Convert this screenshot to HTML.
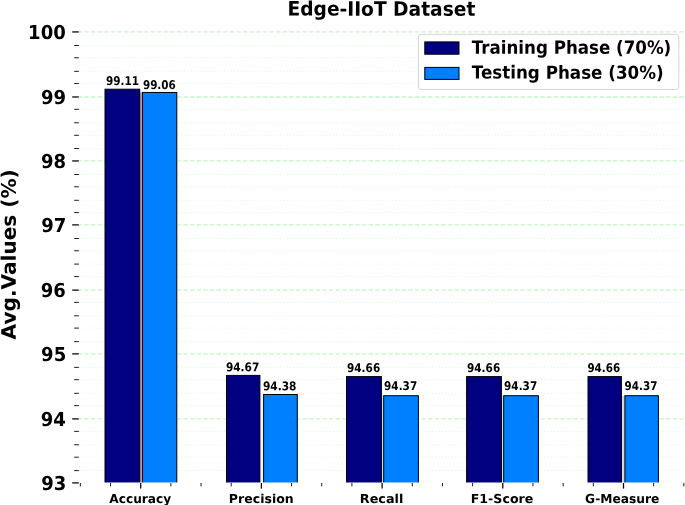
<!DOCTYPE html>
<html><head><meta charset="utf-8"><title>Edge-IIoT Dataset</title>
<style>
html,body{margin:0;padding:0;background:#fff;}
body{width:685px;height:505px;overflow:hidden;}
svg{display:block;}
text{font-family:"DejaVu Sans","Liberation Sans",sans-serif;font-weight:bold;fill:#000;}
</style></head><body>
<svg width="685" height="505" viewBox="0 0 685 505">
<rect x="0" y="0" width="685" height="505" fill="#fff"/>

<g fill="none">
<line x1="78.8" x2="685" y1="31.94" y2="31.94" stroke="#c4f8c8" stroke-width="1.3" stroke-dasharray="4.5 2.11" stroke-dashoffset="1.1"/>
<line x1="78.8" x2="685" y1="45.49" y2="45.49" stroke="#dcfadc" stroke-width="1" stroke-dasharray="1.1 2.2"/>
<line x1="78.8" x2="685" y1="57.78" y2="57.78" stroke="#dcfadc" stroke-width="1" stroke-dasharray="1.1 2.2"/>
<line x1="78.8" x2="685" y1="71.33" y2="71.33" stroke="#dcfadc" stroke-width="1" stroke-dasharray="1.1 2.2"/>
<line x1="78.8" x2="685" y1="83.45" y2="83.45" stroke="#dcfadc" stroke-width="1" stroke-dasharray="1.1 2.2"/>
<line x1="78.8" x2="685" y1="96.99" y2="96.99" stroke="#c4f8c8" stroke-width="1.3" stroke-dasharray="4.5 2.11" stroke-dashoffset="1.1"/>
<line x1="78.8" x2="685" y1="109.30" y2="109.30" stroke="#dcfadc" stroke-width="1" stroke-dasharray="1.1 2.2"/>
<line x1="78.8" x2="685" y1="122.80" y2="122.80" stroke="#dcfadc" stroke-width="1" stroke-dasharray="1.1 2.2"/>
<line x1="78.8" x2="685" y1="135.30" y2="135.30" stroke="#dcfadc" stroke-width="1" stroke-dasharray="1.1 2.2"/>
<line x1="78.8" x2="685" y1="148.50" y2="148.50" stroke="#dcfadc" stroke-width="1" stroke-dasharray="1.1 2.2"/>
<line x1="78.8" x2="685" y1="160.95" y2="160.95" stroke="#c4f8c8" stroke-width="1.3" stroke-dasharray="4.5 2.11" stroke-dashoffset="1.1"/>
<line x1="78.8" x2="685" y1="174.50" y2="174.50" stroke="#dcfadc" stroke-width="1" stroke-dasharray="1.1 2.2"/>
<line x1="78.8" x2="685" y1="186.80" y2="186.80" stroke="#dcfadc" stroke-width="1" stroke-dasharray="1.1 2.2"/>
<line x1="78.8" x2="685" y1="200.30" y2="200.30" stroke="#dcfadc" stroke-width="1" stroke-dasharray="1.1 2.2"/>
<line x1="78.8" x2="685" y1="212.60" y2="212.60" stroke="#dcfadc" stroke-width="1" stroke-dasharray="1.1 2.2"/>
<line x1="78.8" x2="685" y1="224.90" y2="224.90" stroke="#c4f8c8" stroke-width="1.3" stroke-dasharray="4.5 2.11" stroke-dashoffset="1.1"/>
<line x1="78.8" x2="685" y1="238.50" y2="238.50" stroke="#dcfadc" stroke-width="1" stroke-dasharray="1.1 2.2"/>
<line x1="78.8" x2="685" y1="250.75" y2="250.75" stroke="#dcfadc" stroke-width="1" stroke-dasharray="1.1 2.2"/>
<line x1="78.8" x2="685" y1="264.10" y2="264.10" stroke="#dcfadc" stroke-width="1" stroke-dasharray="1.1 2.2"/>
<line x1="78.8" x2="685" y1="276.60" y2="276.60" stroke="#dcfadc" stroke-width="1" stroke-dasharray="1.1 2.2"/>
<line x1="78.8" x2="685" y1="290.10" y2="290.10" stroke="#c4f8c8" stroke-width="1.3" stroke-dasharray="4.5 2.11" stroke-dashoffset="1.1"/>
<line x1="78.8" x2="685" y1="302.40" y2="302.40" stroke="#dcfadc" stroke-width="1" stroke-dasharray="1.1 2.2"/>
<line x1="78.8" x2="685" y1="315.80" y2="315.80" stroke="#dcfadc" stroke-width="1" stroke-dasharray="1.1 2.2"/>
<line x1="78.8" x2="685" y1="328.10" y2="328.10" stroke="#dcfadc" stroke-width="1" stroke-dasharray="1.1 2.2"/>
<line x1="78.8" x2="685" y1="341.60" y2="341.60" stroke="#dcfadc" stroke-width="1" stroke-dasharray="1.1 2.2"/>
<line x1="78.8" x2="685" y1="353.90" y2="353.90" stroke="#c4f8c8" stroke-width="1.3" stroke-dasharray="4.5 2.11" stroke-dashoffset="1.1"/>
<line x1="78.8" x2="685" y1="367.40" y2="367.40" stroke="#dcfadc" stroke-width="1" stroke-dasharray="1.1 2.2"/>
<line x1="78.8" x2="685" y1="379.70" y2="379.70" stroke="#dcfadc" stroke-width="1" stroke-dasharray="1.1 2.2"/>
<line x1="78.8" x2="685" y1="393.30" y2="393.30" stroke="#dcfadc" stroke-width="1" stroke-dasharray="1.1 2.2"/>
<line x1="78.8" x2="685" y1="405.60" y2="405.60" stroke="#dcfadc" stroke-width="1" stroke-dasharray="1.1 2.2"/>
<line x1="78.8" x2="685" y1="418.90" y2="418.90" stroke="#c4f8c8" stroke-width="1.3" stroke-dasharray="4.5 2.11" stroke-dashoffset="1.1"/>
<line x1="78.8" x2="685" y1="431.40" y2="431.40" stroke="#dcfadc" stroke-width="1" stroke-dasharray="1.1 2.2"/>
<line x1="78.8" x2="685" y1="444.75" y2="444.75" stroke="#dcfadc" stroke-width="1" stroke-dasharray="1.1 2.2"/>
<line x1="78.8" x2="685" y1="457.20" y2="457.20" stroke="#dcfadc" stroke-width="1" stroke-dasharray="1.1 2.2"/>
<line x1="78.8" x2="685" y1="470.60" y2="470.60" stroke="#dcfadc" stroke-width="1" stroke-dasharray="1.1 2.2"/>
</g>
<rect x="139.70" y="92.46" width="2.80" height="390.52" fill="#a6a6a6"/>
<rect x="259.90" y="394.50" width="3.70" height="88.48" fill="#f4f4f4"/>
<rect x="381.40" y="395.70" width="2.30" height="87.28" fill="#d8d8d8"/>
<rect x="501.40" y="395.70" width="2.30" height="87.28" fill="#d8d8d8"/>
<rect x="621.40" y="395.70" width="3.50" height="87.28" fill="#d8d8d8"/>
<g stroke="#000" stroke-width="1">
<rect x="105.00" y="89.20" width="34.70" height="396.28" fill="#000080"/>
<rect x="142.50" y="92.46" width="34.30" height="393.02" fill="#0080ff"/>
<rect x="226.50" y="375.40" width="33.40" height="110.08" fill="#000080"/>
<rect x="263.60" y="394.50" width="33.70" height="90.98" fill="#0080ff"/>
<rect x="346.50" y="376.60" width="34.90" height="108.88" fill="#000080"/>
<rect x="383.70" y="395.70" width="34.70" height="89.78" fill="#0080ff"/>
<rect x="466.60" y="376.60" width="34.80" height="108.88" fill="#000080"/>
<rect x="503.70" y="395.70" width="34.70" height="89.78" fill="#0080ff"/>
<rect x="588.00" y="376.60" width="33.40" height="108.88" fill="#000080"/>
<rect x="624.90" y="395.70" width="33.50" height="89.78" fill="#0080ff"/>
</g>
<rect x="78.8" y="482.48" width="606.2" height="4" fill="#fff"/>
<g stroke="#000">
<line x1="72.20" x2="78.8" y1="31.94" y2="31.94" stroke-width="1.25"/>
<line x1="74.20" x2="78.8" y1="45.49" y2="45.49" stroke-width="0.9"/>
<line x1="74.20" x2="78.8" y1="57.78" y2="57.78" stroke-width="0.9"/>
<line x1="74.20" x2="78.8" y1="71.33" y2="71.33" stroke-width="0.9"/>
<line x1="74.20" x2="78.8" y1="83.45" y2="83.45" stroke-width="0.9"/>
<line x1="72.20" x2="78.8" y1="96.99" y2="96.99" stroke-width="1.25"/>
<line x1="74.20" x2="78.8" y1="109.30" y2="109.30" stroke-width="0.9"/>
<line x1="74.20" x2="78.8" y1="122.80" y2="122.80" stroke-width="0.9"/>
<line x1="74.20" x2="78.8" y1="135.30" y2="135.30" stroke-width="0.9"/>
<line x1="74.20" x2="78.8" y1="148.50" y2="148.50" stroke-width="0.9"/>
<line x1="72.20" x2="78.8" y1="160.95" y2="160.95" stroke-width="1.25"/>
<line x1="74.20" x2="78.8" y1="174.50" y2="174.50" stroke-width="0.9"/>
<line x1="74.20" x2="78.8" y1="186.80" y2="186.80" stroke-width="0.9"/>
<line x1="74.20" x2="78.8" y1="200.30" y2="200.30" stroke-width="0.9"/>
<line x1="74.20" x2="78.8" y1="212.60" y2="212.60" stroke-width="0.9"/>
<line x1="72.20" x2="78.8" y1="224.90" y2="224.90" stroke-width="1.25"/>
<line x1="74.20" x2="78.8" y1="238.50" y2="238.50" stroke-width="0.9"/>
<line x1="74.20" x2="78.8" y1="250.75" y2="250.75" stroke-width="0.9"/>
<line x1="74.20" x2="78.8" y1="264.10" y2="264.10" stroke-width="0.9"/>
<line x1="74.20" x2="78.8" y1="276.60" y2="276.60" stroke-width="0.9"/>
<line x1="72.20" x2="78.8" y1="290.10" y2="290.10" stroke-width="1.25"/>
<line x1="74.20" x2="78.8" y1="302.40" y2="302.40" stroke-width="0.9"/>
<line x1="74.20" x2="78.8" y1="315.80" y2="315.80" stroke-width="0.9"/>
<line x1="74.20" x2="78.8" y1="328.10" y2="328.10" stroke-width="0.9"/>
<line x1="74.20" x2="78.8" y1="341.60" y2="341.60" stroke-width="0.9"/>
<line x1="72.20" x2="78.8" y1="353.90" y2="353.90" stroke-width="1.25"/>
<line x1="74.20" x2="78.8" y1="367.40" y2="367.40" stroke-width="0.9"/>
<line x1="74.20" x2="78.8" y1="379.70" y2="379.70" stroke-width="0.9"/>
<line x1="74.20" x2="78.8" y1="393.30" y2="393.30" stroke-width="0.9"/>
<line x1="74.20" x2="78.8" y1="405.60" y2="405.60" stroke-width="0.9"/>
<line x1="72.20" x2="78.8" y1="418.90" y2="418.90" stroke-width="1.25"/>
<line x1="74.20" x2="78.8" y1="431.40" y2="431.40" stroke-width="0.9"/>
<line x1="74.20" x2="78.8" y1="444.75" y2="444.75" stroke-width="0.9"/>
<line x1="74.20" x2="78.8" y1="457.20" y2="457.20" stroke-width="0.9"/>
<line x1="74.20" x2="78.8" y1="470.60" y2="470.60" stroke-width="0.9"/>
<line x1="72.20" x2="78.8" y1="482.90" y2="482.90" stroke-width="1.25"/>
<line x1="80.35" x2="80.35" y1="482.98" y2="486.38" stroke-width="0.9"/>
<line x1="110.52" x2="110.52" y1="482.98" y2="486.38" stroke-width="0.9"/>
<line x1="140.70" x2="140.70" y1="482.98" y2="488.58" stroke-width="1.25"/>
<line x1="170.88" x2="170.88" y1="482.98" y2="486.38" stroke-width="0.9"/>
<line x1="201.05" x2="201.05" y1="482.98" y2="486.38" stroke-width="0.9"/>
<line x1="231.22" x2="231.22" y1="482.98" y2="486.38" stroke-width="0.9"/>
<line x1="261.40" x2="261.40" y1="482.98" y2="488.58" stroke-width="1.25"/>
<line x1="291.57" x2="291.57" y1="482.98" y2="486.38" stroke-width="0.9"/>
<line x1="321.75" x2="321.75" y1="482.98" y2="486.38" stroke-width="0.9"/>
<line x1="351.92" x2="351.92" y1="482.98" y2="486.38" stroke-width="0.9"/>
<line x1="382.10" x2="382.10" y1="482.98" y2="488.58" stroke-width="1.25"/>
<line x1="412.27" x2="412.27" y1="482.98" y2="486.38" stroke-width="0.9"/>
<line x1="442.45" x2="442.45" y1="482.98" y2="486.38" stroke-width="0.9"/>
<line x1="472.62" x2="472.62" y1="482.98" y2="486.38" stroke-width="0.9"/>
<line x1="502.80" x2="502.80" y1="482.98" y2="488.58" stroke-width="1.25"/>
<line x1="532.98" x2="532.98" y1="482.98" y2="486.38" stroke-width="0.9"/>
<line x1="563.15" x2="563.15" y1="482.98" y2="486.38" stroke-width="0.9"/>
<line x1="593.33" x2="593.33" y1="482.98" y2="486.38" stroke-width="0.9"/>
<line x1="623.50" x2="623.50" y1="482.98" y2="488.58" stroke-width="1.25"/>
<line x1="653.67" x2="653.67" y1="482.98" y2="486.38" stroke-width="0.9"/>
<line x1="683.85" x2="683.85" y1="482.98" y2="486.38" stroke-width="0.9"/>
</g>
<text transform="translate(28.12,38.94) rotate(0.03) scale(0.9400,1)" font-size="19.20">100</text>
<text transform="translate(40.99,103.99) rotate(0.03) scale(0.9400,1)" font-size="19.20">99</text>
<text transform="translate(40.94,167.95) rotate(0.03) scale(0.9400,1)" font-size="19.20">98</text>
<text transform="translate(41.30,231.90) rotate(0.03) scale(0.9400,1)" font-size="19.20">97</text>
<text transform="translate(40.81,297.10) rotate(0.03) scale(0.9400,1)" font-size="19.20">96</text>
<text transform="translate(41.12,360.90) rotate(0.03) scale(0.9400,1)" font-size="19.20">95</text>
<text transform="translate(40.67,425.90) rotate(0.03) scale(0.9400,1)" font-size="19.20">94</text>
<text transform="translate(41.30,489.90) rotate(0.03) scale(0.9400,1)" font-size="19.20">93</text>
<text transform="translate(109.24,502.90) rotate(0.03) scale(0.9893,1)" font-size="12.35">Accuracy</text>
<text transform="translate(228.84,502.90) rotate(0.03) scale(1.0158,1)" font-size="12.35">Precision</text>
<text transform="translate(359.82,502.90) rotate(0.03) scale(1.0373,1)" font-size="12.35">Recall</text>
<text transform="translate(470.73,502.90) rotate(0.03) scale(1.0224,1)" font-size="12.35">F1-Score</text>
<text transform="translate(585.09,502.90) rotate(0.03) scale(0.9926,1)" font-size="12.35">G-Measure</text>
<text transform="translate(105.90,85.15) rotate(0.03) scale(0.8708,1)" font-size="12.00">99.11</text>
<text transform="translate(225.90,371.25) rotate(0.03) scale(0.8799,1)" font-size="12.00">94.67</text>
<text transform="translate(347.00,372.35) rotate(0.03) scale(0.8747,1)" font-size="12.00">94.66</text>
<text transform="translate(467.00,372.35) rotate(0.03) scale(0.8747,1)" font-size="12.00">94.66</text>
<text transform="translate(587.41,372.35) rotate(0.03) scale(0.8638,1)" font-size="12.00">94.66</text>
<text transform="translate(142.90,88.75) rotate(0.03) scale(0.8665,1)" font-size="12.00">99.06</text>
<text transform="translate(262.89,390.15) rotate(0.03) scale(0.8850,1)" font-size="12.00">94.38</text>
<text transform="translate(384.10,390.20) rotate(0.03) scale(0.8716,1)" font-size="12.00">94.37</text>
<text transform="translate(504.10,390.20) rotate(0.03) scale(0.8716,1)" font-size="12.00">94.37</text>
<text transform="translate(624.60,390.20) rotate(0.03) scale(0.8661,1)" font-size="12.00">94.37</text>
<text transform="translate(15.75,339.40) rotate(-90.03) scale(1.0062,1)" font-size="19.96">Avg.Values (%)</text>
<text transform="translate(287.47,15.60) rotate(0.03) scale(0.9376,1)" font-size="19.89">Edge-IIoT Dataset</text>
<rect x="418.4" y="34.3" width="260.4" height="55.2" rx="2.6" ry="2.6" fill="#fff" fill-opacity="0.85" stroke="#d4d4d4" stroke-width="1"/>
<rect x="424.8" y="41.9" width="34.2" height="12.3" fill="#000080" stroke="#000" stroke-width="1"/>
<rect x="424.8" y="67.4" width="34.2" height="12.0" fill="#0080ff" stroke="#000" stroke-width="1"/>
<text transform="translate(471.72,53.70) rotate(0.03) scale(0.9152,1)" font-size="18.24">Training Phase (70%)</text>
<text transform="translate(471.72,78.60) rotate(0.03) scale(0.9313,1)" font-size="17.97">Testing Phase (30%)</text>
</svg></body></html>
